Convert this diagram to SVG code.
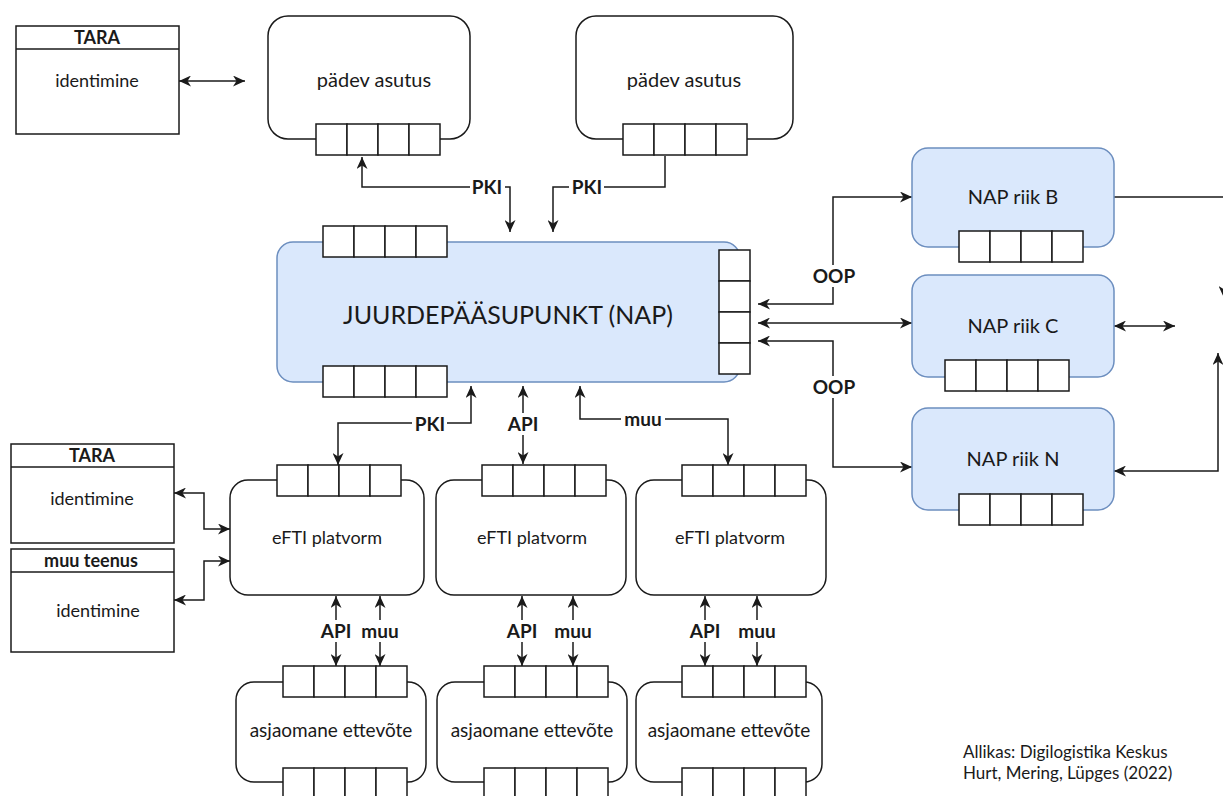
<svg xmlns="http://www.w3.org/2000/svg" xmlns:xlink="http://www.w3.org/1999/xlink" width="1223" height="796" viewBox="0 0 1223 796">
  <style>
    text { font-family: Lato, "Noto Sans", "Liberation Sans", sans-serif; fill: #1a1a1a; text-anchor: middle; }
    .node { fill: #ffffff; stroke: #1a1a1a; stroke-width: 1.5; }
    .blue { fill: #dae8fc; stroke: #6c8ebf; stroke-width: 1.5; }
    .cell { fill: #ffffff; stroke: #1a1a1a; stroke-width: 1.5; }
    .edge { fill: none; stroke: #1a1a1a; stroke-width: 1.5; }
    .both { marker-start: url(#arr); marker-end: url(#arr); }
    .end { marker-end: url(#arr); }
    .lbl { font-weight: bold; font-size: 19px; }
    .lblbg { fill: #ffffff; }
    .t18 { font-size: 18px; }
    .t19 { font-size: 19px; }
    .t20 { font-size: 20px; }
    .hdr { font-weight: bold; font-size: 18px; }
    .foot { font-size: 17px; text-anchor: start; }
  </style>
  <defs>
    <marker id="arr" viewBox="0 0 12 11" refX="12" refY="5.5" markerWidth="12" markerHeight="11" markerUnits="userSpaceOnUse" orient="auto-start-reverse">
      <path d="M0,0 L12,5.5 L0,11 L3.5,5.5 Z" fill="#1a1a1a"/>
    </marker>
    <!-- four-slot port strip, horizontal and vertical -->
    <g id="porth">
      <rect class="cell" x="0" y="0" width="31" height="31"/>
      <rect class="cell" x="31" y="0" width="31" height="31"/>
      <rect class="cell" x="62" y="0" width="31" height="31"/>
      <rect class="cell" x="93" y="0" width="31" height="31"/>
    </g>
    <g id="portv">
      <rect class="cell" x="0" y="0" width="31" height="31"/>
      <rect class="cell" x="0" y="31" width="31" height="31"/>
      <rect class="cell" x="0" y="62" width="31" height="31"/>
      <rect class="cell" x="0" y="93" width="31" height="31"/>
    </g>
  </defs>

  <rect width="1223" height="796" fill="#ffffff"/>

  <!-- connectors -->
  <g id="connectors">
    <path class="edge both" d="M179,81 H245"/>
    <path class="edge both" d="M362,157 V187 H510 V232"/>
    <path class="edge end" d="M665,156 V187 H553 V232"/>
    <path class="edge both" d="M758,304 H833 V197 H912"/>
    <path class="edge both" d="M758,323 H912"/>
    <path class="edge both" d="M758,341 H833 V467 H912"/>
    <path class="edge end" d="M1114,197 H1224 V298"/>
    <path class="edge both" d="M1114,326 H1175"/>
    <path class="edge both" d="M1114,471 H1218 V353"/>
    <path class="edge both" d="M174,493 H204 V529 H230"/>
    <path class="edge both" d="M174,600 H204 V561 H230"/>
    <path class="edge both" d="M471,386 V423 H338 V465"/>
    <path class="edge both" d="M523,386 V464"/>
    <path class="edge both" d="M580,386 V419 H728 V465"/>
    <path class="edge both" d="M336,596 V666"/>
    <path class="edge both" d="M380,596 V666"/>
    <path class="edge both" d="M522,596 V666"/>
    <path class="edge both" d="M573,596 V666"/>
    <path class="edge both" d="M705,596 V666"/>
    <path class="edge both" d="M757,596 V666"/>

    <!-- connector labels -->
    <rect class="lblbg" x="470" y="176" width="35" height="22"/>
    <text class="lbl" x="487" y="194">PKI</text>
    <rect class="lblbg" x="569" y="176" width="35" height="22"/>
    <text class="lbl" x="587" y="194">PKI</text>
    <rect class="lblbg" x="811" y="265" width="46" height="22"/>
    <text class="lbl" x="834" y="283">OOP</text>
    <rect class="lblbg" x="811" y="376" width="46" height="22"/>
    <text class="lbl" x="834" y="394">OOP</text>
    <rect class="lblbg" x="412" y="413" width="35" height="22"/>
    <text class="lbl" x="430" y="431">PKI</text>
    <rect class="lblbg" x="505" y="413" width="36" height="22"/>
    <text class="lbl" x="523" y="431">API</text>
    <rect class="lblbg" x="621" y="408" width="44" height="22"/>
    <text class="lbl" x="643" y="426">muu</text>
    <rect class="lblbg" x="318" y="620" width="36" height="22"/>
    <text class="lbl" x="336" y="638">API</text>
    <rect class="lblbg" x="359" y="620" width="42" height="22"/>
    <text class="lbl" x="380" y="638">muu</text>
    <rect class="lblbg" x="504" y="620" width="36" height="22"/>
    <text class="lbl" x="522" y="638">API</text>
    <rect class="lblbg" x="552" y="620" width="42" height="22"/>
    <text class="lbl" x="573" y="638">muu</text>
    <rect class="lblbg" x="687" y="620" width="36" height="22"/>
    <text class="lbl" x="705" y="638">API</text>
    <rect class="lblbg" x="736" y="620" width="42" height="22"/>
    <text class="lbl" x="757" y="638">muu</text>
  </g>

  <!-- identification services -->
  <g id="tara-top">
    <rect class="node" x="16" y="26" width="163" height="108"/>
    <line class="edge" x1="16" y1="49" x2="179" y2="49"/>
    <text class="hdr" x="97" y="44">TARA</text>
    <text class="t18" x="97" y="87">identimine</text>
  </g>
  <g id="tara-bottom">
    <rect class="node" x="11" y="444" width="163" height="99"/>
    <line class="edge" x1="11" y1="467" x2="174" y2="467"/>
    <text class="hdr" x="92" y="462">TARA</text>
    <text class="t18" x="92" y="505">identimine</text>
  </g>
  <g id="muu-teenus">
    <rect class="node" x="11" y="549" width="163" height="103"/>
    <line class="edge" x1="11" y1="572" x2="174" y2="572"/>
    <text class="hdr" x="91" y="567">muu teenus</text>
    <text class="t18" x="98" y="617">identimine</text>
  </g>

  <!-- competent authorities -->
  <g id="padev-asutus-1">
    <rect class="node" x="268" y="16" width="202" height="123" rx="20"/>
    <use xlink:href="#porth" x="316" y="124"/>
    <text class="t20" x="374" y="87">pädev asutus</text>
  </g>
  <g id="padev-asutus-2">
    <rect class="node" x="576" y="16" width="217" height="123" rx="20"/>
    <use xlink:href="#porth" x="623" y="124"/>
    <text class="t20" x="684" y="87">pädev asutus</text>
  </g>

  <!-- national access point -->
  <g id="nap">
    <rect class="blue" x="277" y="242" width="463" height="140" rx="16"/>
    <use xlink:href="#porth" x="323" y="226"/>
    <use xlink:href="#porth" x="323" y="366"/>
    <use xlink:href="#portv" x="719" y="250"/>
    <text x="508" y="324" style="font-size:25px">JUURDEPÄÄSUPUNKT (NAP)</text>
  </g>

  <!-- access points of other states -->
  <g id="nap-riik-b">
    <rect class="blue" x="912" y="148" width="202" height="99" rx="16"/>
    <use xlink:href="#porth" x="959" y="231"/>
    <text class="t20" x="1013" y="204">NAP riik B</text>
  </g>
  <g id="nap-riik-c">
    <rect class="blue" x="912" y="275" width="202" height="102" rx="16"/>
    <use xlink:href="#porth" x="945" y="360"/>
    <text class="t20" x="1013" y="333">NAP riik C</text>
  </g>
  <g id="nap-riik-n">
    <rect class="blue" x="912" y="408" width="202" height="102" rx="16"/>
    <use xlink:href="#porth" x="959" y="494"/>
    <text class="t20" x="1013" y="466">NAP riik N</text>
  </g>

  <!-- eFTI platforms -->
  <g id="efti-1">
    <rect class="node" x="230" y="480" width="194" height="115" rx="18"/>
    <use xlink:href="#porth" x="277" y="465"/>
    <text class="t18" x="327" y="544">eFTI platvorm</text>
  </g>
  <g id="efti-2">
    <rect class="node" x="436" y="480" width="190" height="115" rx="18"/>
    <use xlink:href="#porth" x="482" y="465"/>
    <text class="t18" x="532" y="544">eFTI platvorm</text>
  </g>
  <g id="efti-3">
    <rect class="node" x="636" y="480" width="190" height="115" rx="18"/>
    <use xlink:href="#porth" x="682" y="465"/>
    <text class="t18" x="730" y="544">eFTI platvorm</text>
  </g>

  <!-- companies -->
  <g id="ettevote-1">
    <rect class="node" x="236" y="682" width="190" height="100" rx="18"/>
    <use xlink:href="#porth" x="283" y="666"/>
    <use xlink:href="#porth" x="283" y="768"/>
    <text class="t19" x="331" y="737">asjaomane ettevõte</text>
  </g>
  <g id="ettevote-2">
    <rect class="node" x="437" y="682" width="190" height="100" rx="18"/>
    <use xlink:href="#porth" x="484" y="666"/>
    <use xlink:href="#porth" x="484" y="768"/>
    <text class="t19" x="532" y="737">asjaomane ettevõte</text>
  </g>
  <g id="ettevote-3">
    <rect class="node" x="636" y="682" width="186" height="100" rx="18"/>
    <use xlink:href="#porth" x="682" y="666"/>
    <use xlink:href="#porth" x="682" y="768"/>
    <text class="t19" x="729" y="737">asjaomane ettevõte</text>
  </g>

  <!-- source note -->
  <g id="source">
    <text class="foot" x="963" y="758">Allikas: Digilogistika Keskus</text>
    <text class="foot" x="963" y="779">Hurt, Mering, Lüpges (2022)</text>
  </g>
</svg>
